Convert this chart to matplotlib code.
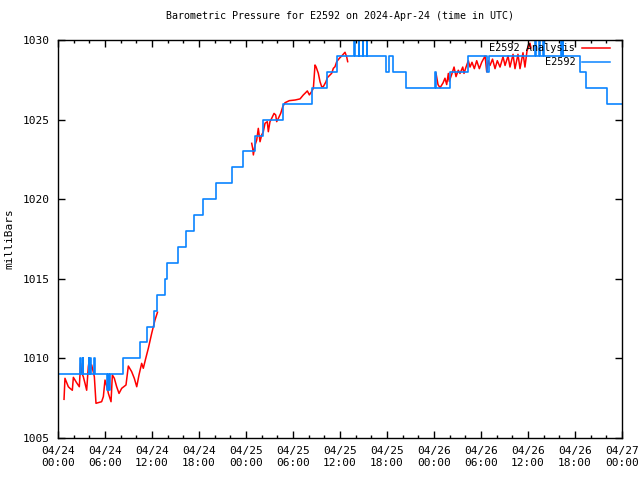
import numpy as np
import matplotlib
matplotlib.use('Agg')
import matplotlib.pyplot as plt
import matplotlib.dates as mdates
from datetime import datetime, timedelta

start = datetime(2024, 4, 24)

# observed pressure (E2592), step changes: hours since start, mbar
obs_hours = [0, 2.85, 2.93, 3.15, 3.23, 3.9, 3.98, 4.1, 4.18, 4.6, 4.75,
             6.3, 6.4, 6.55, 6.7, 8.3, 10.5, 11.4, 12.25, 12.65, 13.66,
             13.95, 15.36, 16.34, 17.4, 18.55, 20.17, 22.17, 23.66, 25.15,
             26.13, 28.69, 32.43, 34.3, 35.62,
             37.8, 37.88, 38.4, 38.48, 38.9, 38.98, 39.4, 39.48,
             41.9, 42.3, 42.75, 44.4, 48.1, 48.3, 50.0, 52.34, 54.8, 55.0,
             60.9, 60.98, 61.45, 61.53, 61.95, 62.03, 64.2, 64.28, 64.45, 64.53,
             66.7, 67.4, 70.1, 72]
obs_mbar = [1009, 1010, 1009, 1010, 1009, 1010, 1009, 1010, 1009, 1010, 1009,
            1008, 1009, 1008, 1009, 1010, 1011, 1012, 1013, 1014, 1015,
            1016, 1017, 1018, 1019, 1020, 1021, 1022, 1023, 1024,
            1025, 1026, 1027, 1028, 1029,
            1030, 1029, 1030, 1029, 1030, 1029, 1030, 1029,
            1028, 1029, 1028, 1027, 1028, 1027, 1028, 1029, 1028, 1029,
            1030, 1029, 1030, 1029, 1030, 1029, 1030, 1029, 1030, 1029,
            1028, 1027, 1026, 1026]

# analysis, three runs
ana1_hours = [0.77, 0.89, 1.32, 1.53, 1.83, 1.96, 2.38, 2.72, 2.89, 3.02, 3.23,
              3.45, 3.66, 3.87, 4.0, 4.17, 4.3, 4.64, 4.85, 5.57, 5.79, 6.0,
              6.3, 6.43, 6.77, 6.94, 7.19, 7.49, 7.79, 8.13, 8.68, 8.98, 9.4,
              9.74, 10.05, 10.34, 10.68, 10.89, 11.2, 11.53, 11.96, 12.38, 12.7]
ana1_mbar = [1007.43, 1008.75, 1008.22, 1008.12, 1008.0, 1008.81, 1008.47,
             1008.22, 1009.69, 1009.1, 1008.85, 1008.43, 1008.0, 1009.48,
             1009.9, 1009.27, 1009.59, 1008.85, 1007.18, 1007.28, 1007.6,
             1008.64, 1008.12, 1007.8, 1007.28, 1008.96, 1008.75, 1008.22,
             1007.8, 1008.12, 1008.33, 1009.52, 1009.17, 1008.75, 1008.22,
             1008.96, 1009.69, 1009.38, 1010.0, 1010.63, 1011.57, 1012.41,
             1012.9]

ana2_hours = [24.73, 24.85, 24.94, 25.15, 25.37, 25.57, 25.79, 26.0, 26.21,
              26.43, 26.72, 26.85, 27.06, 27.28, 27.58, 27.79, 27.92, 28.13,
              28.43, 28.69, 28.98, 29.53, 30.26, 30.9, 31.32, 31.53, 31.83,
              32.09, 32.38, 32.6, 32.81, 32.94, 33.23, 33.45, 33.66, 33.87,
              34.21, 34.38, 34.72, 34.94, 35.15, 35.36, 35.58, 35.92, 36.34,
              36.64, 36.85, 36.98]
ana2_mbar = [1023.51, 1023.2, 1022.78, 1023.4, 1023.72, 1024.45, 1023.61,
             1024.03, 1024.24, 1024.77, 1024.87, 1024.24, 1024.87, 1025.08,
             1025.39, 1025.29, 1024.87, 1025.08, 1025.39, 1025.81, 1026.06,
             1026.19, 1026.23, 1026.3, 1026.55, 1026.65, 1026.8, 1026.55,
             1026.76, 1026.97, 1028.43, 1028.32, 1027.91, 1027.38, 1027.07,
             1027.07, 1027.38, 1027.63, 1027.8, 1027.91, 1028.22, 1028.32,
             1028.64, 1028.85, 1029.06, 1029.23, 1028.95, 1028.64]

ana3_hours = [48.26, 48.51, 48.77, 49.15, 49.40, 49.62, 49.83, 49.95, 50.30,
              50.56, 50.81, 51.10, 51.32, 51.67, 51.83, 52.09, 52.38, 52.60,
              52.85, 53.15, 53.45, 53.79, 54.09, 54.52, 54.73, 54.93, 55.15,
              55.47, 55.79, 56.08, 56.43, 56.81, 57.07, 57.45, 57.70, 58.09,
              58.34, 58.72, 58.98, 59.36, 59.61, 59.87, 60.25, 60.38]
ana3_mbar = [1027.9, 1027.2, 1027.0, 1027.3, 1027.6, 1027.2, 1027.9, 1027.4,
             1027.9, 1028.3, 1027.7, 1028.1, 1027.9, 1028.3, 1027.9, 1028.3,
             1028.7, 1028.3, 1028.6, 1028.2, 1028.7, 1028.2, 1028.6, 1029.0,
             1028.0, 1028.7, 1028.4, 1028.8, 1028.2, 1028.7, 1028.3, 1028.95,
             1028.4, 1029.0, 1028.3, 1029.1, 1028.2, 1029.1, 1028.2, 1029.2,
             1028.3, 1029.3, 1029.8, 1029.5]


def to_time(hours):
    return [start + timedelta(hours=h) for h in hours]


plt.rcParams['font.family'] = 'DejaVu Sans Mono'
plt.rcParams['font.size'] = 8

fig = plt.figure(figsize=(6.4, 4.8), dpi=100)
ax = fig.add_axes([58 / 640, 42 / 480, 564 / 640, 398 / 480])

red = '#ff0000'
blue = '#0a84ff'

for hh, vv in [(ana1_hours, ana1_mbar), (ana2_hours, ana2_mbar),
               (ana3_hours, ana3_mbar)]:
    ax.plot(to_time(hh), vv, color=red, lw=1.1)
ax.plot(to_time(obs_hours), obs_mbar, color=blue, lw=1.2,
        drawstyle='steps-post')

ax.set_xlim(start, start + timedelta(hours=72))
ax.set_ylim(1005, 1030)
ax.set_yticks(np.arange(1005, 1031, 5))
ax.xaxis.set_major_locator(mdates.HourLocator(byhour=range(0, 24, 6)))
ax.xaxis.set_minor_locator(mdates.HourLocator(byhour=range(0, 24, 2)))
ax.xaxis.set_major_formatter(mdates.DateFormatter('%m/%d\n%H:%M'))
ax.tick_params(which='major', direction='in', length=5, width=1,
               top=True, right=True, pad=6)
ax.tick_params(which='minor', direction='in', length=2.5, width=1,
               top=True, right=True)
for s in ax.spines.values():
    s.set_linewidth(1)

ax.set_ylabel('milliBars', labelpad=6)
ax.set_title('Barometric Pressure for E2592 on 2024-Apr-24 (time in UTC)',
             pad=15, fontsize=7.2)

# gnuplot-style key: right-justified text followed by the line sample
keys = [('E2592 Analysis', red), ('E2592', blue)]
for i, (name, col) in enumerate(keys):
    yk = 0.98 - i * 0.035
    ax.text(0.917, yk, name, transform=ax.transAxes, ha='right',
            va='center', fontsize=7.4)
    ax.plot([0.929, 0.979], [yk, yk], transform=ax.transAxes, color=col,
            lw=1.1, clip_on=False)

fig.savefig('out.png', dpi=100)
